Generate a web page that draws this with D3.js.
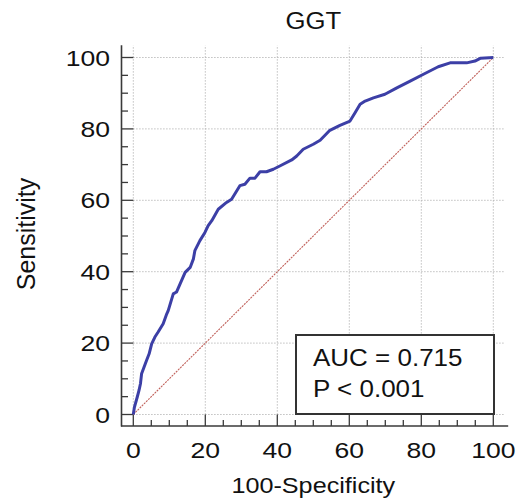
<!DOCTYPE html>
<html>
<head>
<meta charset="utf-8">
<script src="https://cdn.jsdelivr.net/npm/d3@7"></script>
<style>
  html, body { margin: 0; padding: 0; background: #fff; }
  svg { display: block; font-family: "Liberation Sans", Arial, sans-serif; }
</style>
</head>
<body>
<svg id="chart" width="524" height="500"></svg>
<script>
// ---- Data ----
const chartTitle = "GGT";
const xLabel = "100-Specificity";
const yLabel = "Sensitivity";
const rocX = [0, 0.3, 1.1, 1.6, 2.0, 2.3, 3.0, 3.7, 4.4, 5.1, 6.0, 6.9, 8.3, 9.3, 9.7, 11.1, 12.0, 13.0, 14.4, 15.8, 16.7, 17.1, 18.5, 19.9, 20.8, 21.8, 23.6, 25.9, 27.3, 29.6, 31.0, 32.4, 33.8, 35.2, 37.0, 38.9, 40.7, 44.0, 45.4, 47.2, 50.0, 51.9, 54.6, 57.4, 60.2, 61.6, 63.0, 64.4, 66.7, 69.9, 73.2, 76.9, 80.6, 84.7, 88.0, 92.6, 94.9, 96.5, 100];
const rocY = [0, 2.0, 4.9, 6.8, 8.7, 11.4, 13.3, 15.2, 17.0, 19.8, 21.7, 23.1, 25.4, 28.2, 29.1, 33.8, 34.3, 36.6, 39.8, 41.2, 43.6, 45.9, 48.7, 51.0, 52.9, 54.3, 57.5, 59.4, 60.3, 64.1, 64.5, 66.2, 66.2, 68.0, 68.0, 68.7, 69.6, 71.3, 72.4, 74.3, 75.7, 76.8, 79.6, 81.0, 82.2, 84.5, 86.9, 87.8, 88.7, 89.7, 91.5, 93.4, 95.3, 97.4, 98.5, 98.5, 99.0, 99.8, 100];
const refX = [0, 100];
const refY = [0, 100];
const majorTicks = [0, 20, 40, 60, 80, 100];
const minorTicks = [5, 10, 15, 25, 30, 35, 45, 50, 55, 65, 70, 75, 85, 90, 95];
const legendLines = ["AUC = 0.715", "P < 0.001"];

// ---- Layout ----
const svg = d3.select("#chart");
const x = d3.scaleLinear().domain([0, 100]).range([133.3, 493.3]);
const y = d3.scaleLinear().domain([0, 100]).range([414.5, 57.5]);
const gridXMax = 103.3, gridYMax = 103.4;
const axisX = 121.5, axisY = 426;
const txtCol = "#111";

function addText(g, tx, ty, str, fs, sx, anchor, rot) {
  return g.append("text")
    .attr("transform", `translate(${tx},${ty})${rot ? ` rotate(${rot})` : ""} scale(${sx},1)`)
    .attr("text-anchor", anchor).attr("font-size", fs).attr("fill", txtCol).text(str);
}

// grid
const grid = svg.append("g").attr("stroke", "#b0b0b0").attr("stroke-width", 1)
  .attr("stroke-dasharray", "1.2,1.8").attr("fill", "none");
majorTicks.forEach(t => {
  grid.append("line").attr("x1", x(t)).attr("x2", x(t)).attr("y1", y(0)).attr("y2", y(gridYMax));
  grid.append("line").attr("x1", x(0)).attr("x2", x(gridXMax)).attr("y1", y(t)).attr("y2", y(t));
});

// axes lines
const axCol = "#3a3a3a";
svg.append("line").attr("x1", axisX).attr("x2", axisX).attr("y1", y(gridYMax)).attr("y2", axisY + 0.5)
  .attr("stroke", axCol).attr("stroke-width", 1.6);
svg.append("line").attr("x1", axisX - 0.5).attr("x2", x(gridXMax) + 3).attr("y1", axisY).attr("y2", axisY)
  .attr("stroke", axCol).attr("stroke-width", 1.6);

// ticks
const tk = svg.append("g").attr("stroke", axCol).attr("stroke-width", 1.3);
majorTicks.forEach(t => {
  tk.append("line").attr("x1", axisX).attr("x2", x(0)).attr("y1", y(t)).attr("y2", y(t));
  tk.append("line").attr("x1", x(t)).attr("x2", x(t)).attr("y1", axisY).attr("y2", y(0));
});
minorTicks.forEach(t => {
  tk.append("line").attr("x1", axisX).attr("x2", axisX + 6.5).attr("y1", y(t)).attr("y2", y(t));
  tk.append("line").attr("x1", x(t)).attr("x2", x(t)).attr("y1", axisY).attr("y2", axisY - 6);
});

// tick labels
const labels = svg.append("g");
majorTicks.forEach(t => {
  addText(labels, 110, y(t) + 8, t, 22.5, 1.18, "end");
  addText(labels, x(t), 457.5, t, 22.5, 1.18, "middle");
});

// axis titles
addText(labels, x(50), 493, xLabel, 22.5, 1.12, "middle");
addText(labels, 35, 234, yLabel, 25, 1.0, "middle", -90);
addText(labels, x(50), 29.3, chartTitle, 24.5, 1.05, "middle");

// reference diagonal
svg.append("path").datum(d3.range(refX.length))
  .attr("d", d3.line().x(i => x(refX[i])).y(i => y(refY[i])))
  .attr("fill", "none").attr("stroke", "#c0605a").attr("stroke-width", 1.1)
  .attr("stroke-dasharray", "2,1");

// ROC curve
svg.append("path").datum(d3.range(rocX.length))
  .attr("d", d3.line().x(i => x(rocX[i])).y(i => y(rocY[i])))
  .attr("fill", "none").attr("stroke", "#3c3fa6").attr("stroke-width", 3)
  .attr("stroke-linejoin", "round");

// legend box
const lg = svg.append("g");
lg.append("rect").attr("x", 296).attr("y", 335).attr("width", 198).attr("height", 79)
  .attr("fill", "#fff").attr("stroke", "#333").attr("stroke-width", 2);
legendLines.forEach((s, i) => addText(lg, 313, 365.7 + i * 31.6, s, 23, 1.13, "start"));
</script>
</body>
</html>
